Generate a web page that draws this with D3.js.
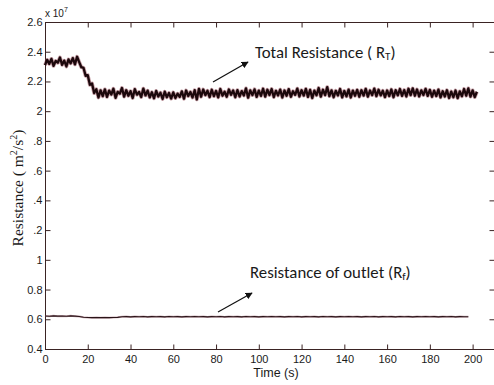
<!DOCTYPE html>
<html>
<head>
<meta charset="utf-8">
<script src="https://cdn.jsdelivr.net/npm/d3@7"></script>
<style>
  html, body { margin: 0; padding: 0; background: #fff; }
  svg { display: block; }
</style>
</head>
<body>
<svg id="chart" width="494" height="385"></svg>
<script>
// ---- data (values in units of 1e7 m^2/s^2) ----
const totalStart = 0, totalStep = 1; // seconds
const totalResistance = [
  2.310, 2.345, 2.318, 2.352, 2.305, 2.338, 2.326, 2.361, 2.312, 2.340,
  2.301, 2.348, 2.322, 2.357, 2.315, 2.366, 2.330, 2.296, 2.292, 2.238,
  2.242, 2.178, 2.186, 2.122, 2.148, 2.092, 2.140, 2.101, 2.147, 2.096,
  2.138, 2.112, 2.151, 2.090, 2.130, 2.118, 2.156, 2.098, 2.141, 2.104,
  2.135, 2.089, 2.148, 2.111, 2.129, 2.095, 2.152, 2.106, 2.138, 2.093,
  2.127, 2.087, 2.136, 2.099, 2.124, 2.082, 2.131, 2.094, 2.122, 2.085,
  2.126, 2.088, 2.118, 2.096, 2.133, 2.084, 2.139, 2.102, 2.129, 2.092,
  2.141, 2.079, 2.150, 2.097, 2.146, 2.108, 2.137, 2.095, 2.144, 2.101,
  2.136, 2.093, 2.149, 2.104, 2.131, 2.097, 2.146, 2.110, 2.139, 2.094,
  2.142, 2.099, 2.135, 2.106, 2.153, 2.091, 2.140, 2.108, 2.147, 2.096,
  2.138, 2.103, 2.151, 2.098, 2.144, 2.109, 2.149, 2.095, 2.137, 2.106,
  2.145, 2.092, 2.139, 2.104, 2.148, 2.097, 2.134, 2.110, 2.152, 2.099,
  2.141, 2.105, 2.150, 2.096, 2.143, 2.089, 2.138, 2.107, 2.156, 2.098,
  2.144, 2.108, 2.162, 2.101, 2.140, 2.094, 2.137, 2.106, 2.149, 2.093,
  2.136, 2.100, 2.145, 2.092, 2.138, 2.104, 2.143, 2.097, 2.141, 2.105,
  2.150, 2.098, 2.139, 2.108, 2.152, 2.101, 2.144, 2.106, 2.137, 2.095,
  2.139, 2.102, 2.146, 2.094, 2.141, 2.107, 2.149, 2.103, 2.142, 2.099,
  2.151, 2.108, 2.153, 2.104, 2.146, 2.100, 2.140, 2.109, 2.150, 2.103,
  2.143, 2.097, 2.138, 2.102, 2.145, 2.093, 2.134, 2.099, 2.141, 2.089,
  2.132, 2.094, 2.139, 2.088, 2.133, 2.101, 2.149, 2.104, 2.153, 2.098,
  2.140, 2.095, 2.131
];

const outletStart = 0, outletStep = 2; // seconds
const outletResistance = [
  0.622, 0.620, 0.623, 0.621, 0.622, 0.620, 0.623, 0.621, 0.619,
  0.614, 0.612, 0.611, 0.612, 0.611, 0.612, 0.611, 0.612, 0.613,
  0.617, 0.618, 0.616, 0.618, 0.617, 0.619, 0.616, 0.618, 0.617, 0.618,
  0.616, 0.619, 0.617, 0.618, 0.616, 0.618, 0.617, 0.619, 0.617, 0.618,
  0.616, 0.618, 0.617, 0.619, 0.616, 0.618, 0.617, 0.618, 0.616, 0.619,
  0.617, 0.618, 0.616, 0.618, 0.617, 0.619, 0.617, 0.618, 0.616, 0.618,
  0.617, 0.619, 0.616, 0.618, 0.617, 0.618, 0.616, 0.619, 0.617, 0.618,
  0.616, 0.618, 0.617, 0.619, 0.617, 0.618, 0.616, 0.618, 0.617, 0.619,
  0.616, 0.618, 0.617, 0.618, 0.616, 0.619, 0.617, 0.618, 0.616, 0.618,
  0.617, 0.619, 0.617, 0.618, 0.616, 0.618, 0.617, 0.619, 0.616, 0.618,
  0.617, 0.617
];

const xTicks = [0, 20, 40, 60, 80, 100, 120, 140, 160, 180, 200];
const yTicks = [0.4, 0.6, 0.8, 1.0, 1.2, 1.4, 1.6, 1.8, 2.0, 2.2, 2.4, 2.6];
const yTickLabels = ["0.4", "0.6", "0.8", "1", ".2", ".4", ".6", ".8", "2", "2.2", "2.4", "2.6"];
const xDomain = [0, 210];
const yDomain = [0.4, 2.6];

const xLabel = "Time (s)";
const exponentBase = "x 10", exponentPower = "7";
const annotTotal = { text: "Total Resistance ( R", sub: "T", tail: ")" };
const annotOutlet = { text: "Resistance of outlet (R", sub: "f", tail: ")" };

// ---- layout ----
const svg = d3.select("#chart");
const L = 45, R = 494, T = 22, B = 349;
const x = d3.scaleLinear().domain(xDomain).range([L, R]);
const y = d3.scaleLinear().domain(yDomain).range([B, T]);

const axisColor = "#3a2323";
const tickFont = "'Liberation Sans', Arial, sans-serif";

// frame
svg.append("rect").attr("x", L + 0.5).attr("y", T + 0.5)
  .attr("width", R - L).attr("height", B - T)
  .attr("fill", "none").attr("stroke", axisColor).attr("stroke-width", 1);

function styleAxis(g) {
  g.select(".domain").remove();
  g.selectAll(".tick line").attr("stroke", axisColor);
  g.selectAll(".tick text").attr("fill", "#1a1a1a")
    .style("font-family", tickFont).style("font-size", "11px");
}

const yLabelMap = new Map(yTicks.map((v, i) => [v, yTickLabels[i]]));

svg.append("g").attr("transform", `translate(${L + 0.5},0)`)
  .call(d3.axisLeft(y).tickValues(yTicks).tickSize(-5).tickPadding(3)
    .tickFormat(d => yLabelMap.get(d)))
  .call(styleAxis);
svg.append("g").attr("transform", `translate(${R + 0.5},0)`)
  .call(d3.axisRight(y).tickValues(yTicks).tickSize(-5).tickFormat(""))
  .call(styleAxis);
svg.append("g").attr("transform", `translate(0,${B + 0.5})`)
  .call(d3.axisBottom(x).tickValues(xTicks).tickSize(-5).tickPadding(6))
  .call(styleAxis);
svg.append("g").attr("transform", `translate(0,${T + 0.5})`)
  .call(d3.axisTop(x).tickValues(xTicks).tickSize(-5).tickFormat(""))
  .call(styleAxis);

// exponent
const ex = svg.append("text").attr("x", L).attr("y", 17)
  .style("font-family", tickFont).style("font-size", "10px").attr("fill", "#1a1a1a");
ex.append("tspan").text(exponentBase);
ex.append("tspan").attr("dy", -5).style("font-size", "7px").text(exponentPower);

// axis titles
svg.append("text").attr("x", 276).attr("y", 377).attr("text-anchor", "middle")
  .style("font-family", tickFont).style("font-size", "12.5px").attr("fill", "#1a1a1a")
  .text(xLabel);

const yt = svg.append("text").attr("transform", "translate(23,188) rotate(-90)")
  .attr("text-anchor", "middle")
  .style("font-family", "'Liberation Serif', 'Times New Roman', serif")
  .style("font-size", "15.5px").attr("fill", "#1a1a1a");
yt.append("tspan").text("Resistance ( m");
yt.append("tspan").attr("dy", -6).style("font-size", "10px").text("2");
yt.append("tspan").attr("dy", 6).text("/s");
yt.append("tspan").attr("dy", -6).style("font-size", "10px").text("2");
yt.append("tspan").attr("dy", 6).text(")");

// lines
const lineTotal = d3.line()
  .x((d, i) => x(totalStart + i * totalStep)).y(d => y(d));
const lineOutlet = d3.line()
  .x((d, i) => x(outletStart + i * outletStep)).y(d => y(d));

svg.append("path").datum(totalResistance).attr("d", lineTotal)
  .attr("fill", "none").attr("stroke", "#8a3a48").attr("stroke-width", 3.8)
  .attr("stroke-opacity", 0.5).attr("stroke-linejoin", "round");
svg.append("path").datum(totalResistance).attr("d", lineTotal)
  .attr("fill", "none").attr("stroke", "#1c080c").attr("stroke-width", 2.3)
  .attr("stroke-linejoin", "round");

svg.append("path").datum(outletResistance).attr("d", lineOutlet)
  .attr("fill", "none").attr("stroke", "#9a6070").attr("stroke-width", 2)
  .attr("stroke-opacity", 0.5);
svg.append("path").datum(outletResistance).attr("d", lineOutlet)
  .attr("fill", "none").attr("stroke", "#2a1418").attr("stroke-width", 1.1);

// arrows + annotations
const defs = svg.append("defs");
defs.append("marker").attr("id", "ah").attr("viewBox", "0 0 10 10")
  .attr("refX", 9).attr("refY", 5).attr("markerWidth", 7).attr("markerHeight", 7)
  .attr("orient", "auto").attr("markerUnits", "userSpaceOnUse")
  .append("path").attr("d", "M0,0 L10,5 L0,10 z").attr("fill", "#111");

const annFont = "Carlito, 'Open Sans', 'Liberation Sans', sans-serif";
function arrow(x1, y1, x2, y2) {
  svg.append("line").attr("x1", x1).attr("y1", y1).attr("x2", x2).attr("y2", y2)
    .attr("stroke", "#111").attr("stroke-width", 1.2).attr("marker-end", "url(#ah)");
}
function annot(a, x0, y0) {
  const t = svg.append("text").attr("x", x0).attr("y", y0)
    .style("font-family", annFont).style("font-size", "16.8px").attr("fill", "#1a1a1a");
  t.append("tspan").text(a.text);
  t.append("tspan").attr("dy", 2).style("font-size", "11px").text(a.sub);
  t.append("tspan").attr("dy", -2).text(a.tail);
}
arrow(213, 82, 248, 62);
annot(annotTotal, 255, 58);
arrow(218, 312, 252, 293);
annot(annotOutlet, 250, 278);
</script>
</body>
</html>
